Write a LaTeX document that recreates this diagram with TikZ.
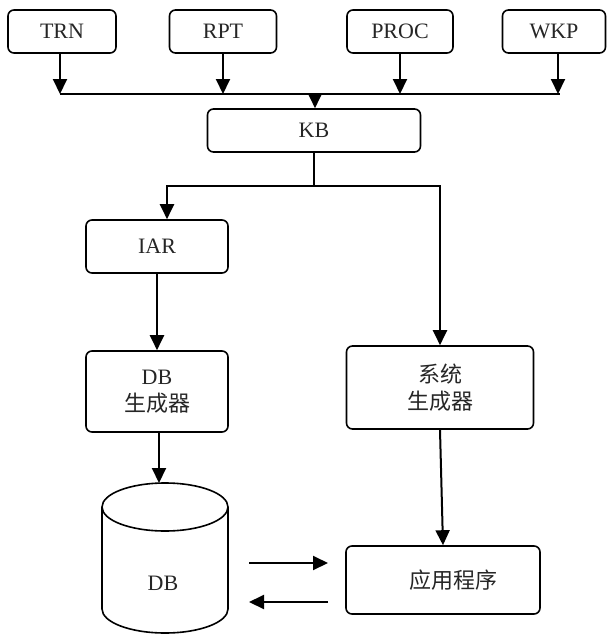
\documentclass[tikz,border=0pt]{standalone}
\usepackage{fontspec}
\setmainfont{Liberation Serif}
\newfontfamily\cjk{Noto Sans CJK SC}
\usetikzlibrary{arrows.meta}
\begin{document}
\begin{tikzpicture}[x=1pt,y=-1pt,
  box/.style={draw, line width=1.6pt, rounded corners=6pt, align=center,
    inner sep=0pt, text=black!85, font=\fontsize{22}{27}\selectfont},
  label/.style={text=black!85, font=\fontsize{22}{27}\selectfont, inner sep=0pt},
  link/.style={line width=2pt},
  flow/.style={line width=2pt, -{Triangle[length=15pt,width=14pt]}}]
\useasboundingbox (0,0) rectangle (606,635);

% source modules
\node[box, minimum width=108pt, minimum height=43pt] (trn)  at (62,31.5)  {TRN};
\node[box, minimum width=107pt, minimum height=43pt] (rpt)  at (223,31.5) {RPT};
\node[box, minimum width=106pt, minimum height=43pt] (proc) at (400,31.5) {PROC};
\node[box, minimum width=103pt, minimum height=43pt] (wkp)  at (554,31.5) {WKP};

% knowledge base and generators
\node[box, minimum width=213pt, minimum height=43pt] (kb)     at (314,130.5) {KB};
\node[box, minimum width=142pt, minimum height=53pt] (iar)    at (157,246.5) {IAR};
\node[box, minimum width=142pt, minimum height=81pt] (dbgen)  at (157,391.5) {DB\\{\cjk 生成器}};
\node[box, minimum width=187pt, minimum height=83pt] (sysgen) at (440,387.5) {{\cjk 系统}\\{\cjk 生成器}};
\node[box, minimum width=194pt, minimum height=68pt] (app)    at (443,580)   {\hspace*{20pt}{\cjk 应用程序}};

% database cylinder
\draw[line width=1.6pt] (102,507) -- (102,609)
  arc[start angle=180, end angle=360, x radius=63pt, y radius=24pt] -- (228,507);
\draw[line width=1.6pt] (165,507) ellipse [x radius=63pt, y radius=24pt];
\node[label] (db) at (163,583) {DB};
\coordinate (dbtop) at (159,483);

% collecting bus
\coordinate (busL) at (60,94);
\coordinate (busR) at (560,94);
\draw[link] (busL) -- (busR);
\draw[flow] ([xshift=-2pt]trn.south) -- ([xshift=-2pt]trn.south |- busL);
\draw[flow] (rpt.south) -- (rpt.south |- busL);
\draw[flow] (proc.south) -- (proc.south |- busL);
\draw[flow] ([xshift=4pt]wkp.south) -- ([xshift=4pt]wkp.south |- busL);
\draw[flow] ([xshift=1pt]kb.north |- busL) -- ([xshift=1pt]kb.north);

% split below KB
\coordinate (splitL) at (167,186);
\coordinate (splitR) at (440,186);
\draw[flow] (kb.south) |- (splitL) -- (splitL |- iar.north);
\draw[flow] (kb.south) |- (splitR) -- (splitR |- sysgen.north);

\draw[flow] (iar) -- (dbgen);
\draw[flow] (dbgen.south -| dbtop) -- (dbtop);
\draw[flow] (sysgen.south) -- (app.north);

% exchange between database and application
\coordinate (dbOut) at (249,563);
\coordinate (appIn) at (328,563);
\coordinate (appOut) at (328,602);
\coordinate (dbIn) at (249,602);
\draw[flow] (dbOut) -- (appIn);
\draw[flow] (appOut) -- (dbIn);
\end{tikzpicture}
\end{document}
